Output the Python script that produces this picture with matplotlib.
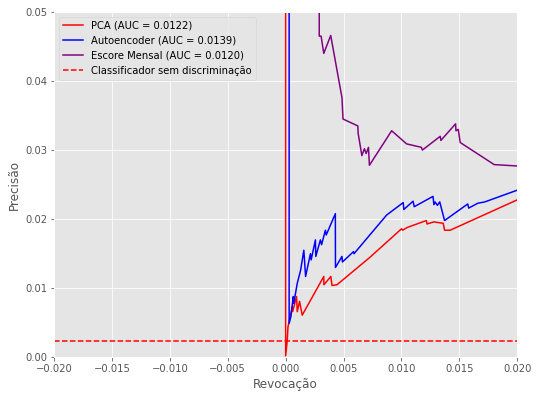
import numpy as np
import matplotlib.pyplot as plt

plt.style.use('ggplot')

# Curvas precisão x revocação
rec_pca = [0.0, 0.0, 0.00014, 0.0002, 0.00057, 0.0006, 0.00094, 0.001, 0.0012, 0.00143,
           0.00329, 0.0033, 0.0039, 0.004, 0.00443, 0.00729, 0.01, 0.0101, 0.0105,
           0.01215, 0.0122, 0.0128, 0.0136, 0.01372, 0.0142, 0.0200]
prec_pca = [1.0, 0.0002, 0.0025, 0.0044, 0.0073, 0.0066, 0.0088, 0.0066, 0.0081, 0.0061,
            0.0117, 0.0105, 0.0117, 0.0104, 0.0105, 0.0145, 0.0186, 0.0184, 0.0188,
            0.0198, 0.0193, 0.0196, 0.0194, 0.0184, 0.0184, 0.0228]

rec_ae = [0.0003, 0.0003, 0.00045, 0.00066, 0.0007, 0.001, 0.00129, 0.00157, 0.00172,
          0.00214, 0.0022, 0.00257, 0.0026, 0.003, 0.0031, 0.00343, 0.0035, 0.00429,
          0.0043, 0.00486, 0.0049, 0.00586, 0.0059, 0.00872, 0.01015, 0.0102, 0.011,
          0.0111, 0.01272, 0.0128, 0.0129, 0.0131, 0.0133, 0.01372, 0.01572, 0.0158,
          0.01658, 0.0172, 0.0200]
prec_ae = [1.0, 0.0049, 0.0059, 0.0088, 0.0078, 0.0107, 0.0126, 0.0155, 0.0117,
           0.0150, 0.0141, 0.0170, 0.0146, 0.0170, 0.0163, 0.0184, 0.0177, 0.0208,
           0.0130, 0.0146, 0.0138, 0.0153, 0.0150, 0.0206, 0.0224, 0.0214, 0.0226,
           0.0218, 0.0233, 0.0221, 0.0225, 0.0220, 0.0225, 0.0198, 0.0222, 0.0216,
           0.0223, 0.0225, 0.0242]

rec_mensal = [0.0029, 0.0029, 0.00306, 0.00329, 0.00389, 0.00486, 0.00495, 0.00623,
              0.00626, 0.00658, 0.0068, 0.00695, 0.00715, 0.00723, 0.00915, 0.01044,
              0.01172, 0.0118, 0.01335, 0.0134, 0.01467, 0.0147, 0.0149, 0.01507,
              0.018, 0.0200]
prec_mensal = [1.0, 0.0465, 0.0465, 0.0440, 0.0466, 0.0376, 0.0345, 0.0335,
               0.0324, 0.0292, 0.0302, 0.0295, 0.0304, 0.0278, 0.0328, 0.0309,
               0.0304, 0.0300, 0.0320, 0.0314, 0.0338, 0.0328, 0.0330, 0.0311,
               0.0279, 0.0277]

baseline = 0.0023

fig = plt.figure(figsize=(7.5, 5.528), dpi=72)
ax = fig.add_axes([0.1, 0.1023, 0.858, 0.8676])

ax.plot(rec_pca, prec_pca, color='red', label='PCA (AUC = 0.0122)')
ax.plot(rec_ae, prec_ae, color='blue', label='Autoencoder (AUC = 0.0139)')
ax.plot(rec_mensal, prec_mensal, color='purple', label='Escore Mensal (AUC = 0.0120)')
ax.axhline(baseline, color='red', ls='--', label='Classificador sem discriminação')

ax.set_xlim(-0.02, 0.02)
ax.set_ylim(0, 0.05)
ax.set_xlabel('Revocação')
ax.set_ylabel('Precisão')
ax.legend(loc='upper left')

fig.savefig('out.png', dpi=72)
